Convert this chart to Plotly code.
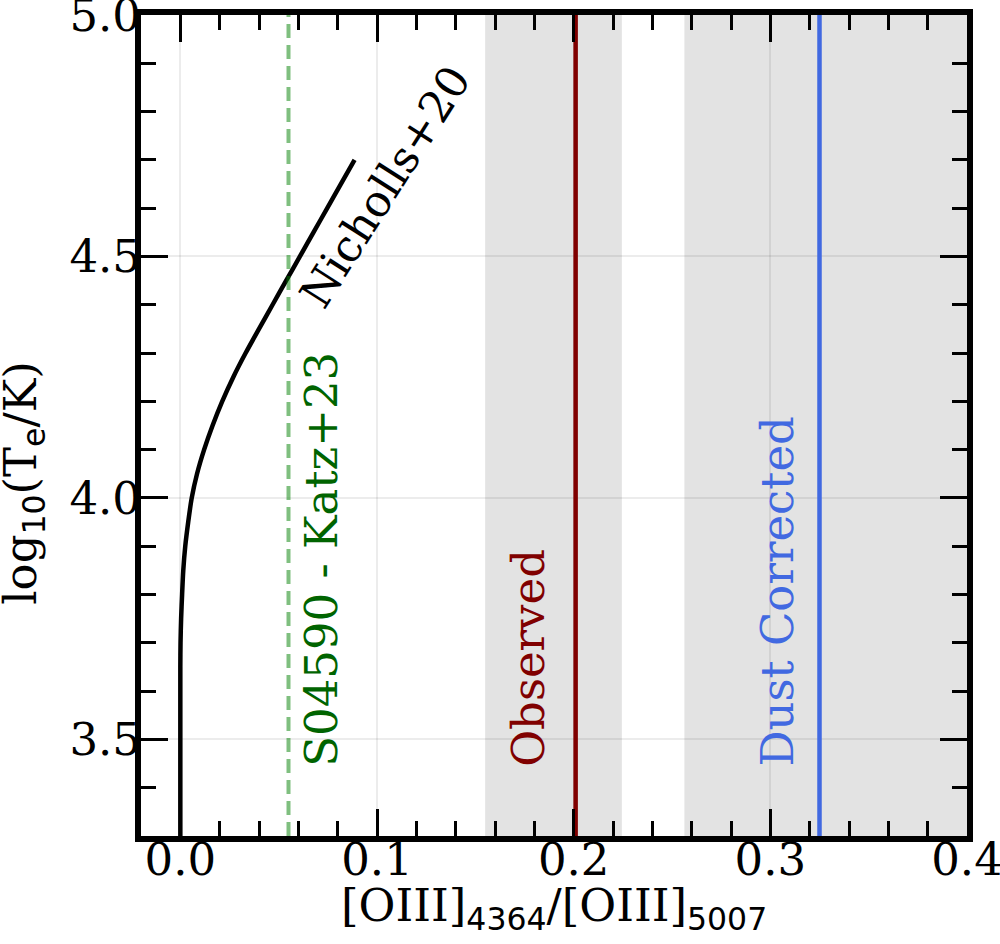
import plotly.graph_objects as go

# Nicholls+20 relation
nicholls_logT = [3.30, 3.60, 3.65, 3.70, 3.75, 3.80, 3.85, 3.90, 3.95, 4.00, 4.05, 4.10,
                 4.15, 4.20, 4.25, 4.30, 4.35, 4.40, 4.45, 4.50, 4.55, 4.60, 4.65, 4.70]
nicholls_ratio = [0.0, 0.0, 0.0, 0.0001, 0.0004, 0.0009, 0.0015, 0.0025, 0.0040, 0.0058,
                  0.0085, 0.0121, 0.0164, 0.0213, 0.0269, 0.0332, 0.0400, 0.0469, 0.0538,
                  0.0608, 0.0677, 0.0747, 0.0816, 0.0886]

katz_ratio = 0.055
observed_ratio = 0.201
observed_band = [0.155, 0.2245]
dust_ratio = 0.325
dust_band = [0.2563, 0.45]

x_range = [-0.02, 0.4]
y_range = [3.3, 5.0]
x_ticks = [0.0, 0.1, 0.2, 0.3, 0.4]
y_ticks = [3.5, 4.0, 4.5, 5.0]

SERIF = "DejaVu Serif"
SANS = "DejaVu Sans"
FS = 45

fig = go.Figure()

for band in (observed_band, dust_band):
    fig.add_shape(type="rect", xref="x", yref="y", x0=band[0], x1=band[1],
                  y0=y_range[0], y1=y_range[1], fillcolor="#e3e3e3",
                  line=dict(width=0), layer="below")

fig.add_trace(go.Scatter(x=nicholls_ratio, y=nicholls_logT, mode="lines",
                         line=dict(color="black", width=4.5, shape="spline", smoothing=0.8),
                         showlegend=False, hoverinfo="skip"))
fig.add_trace(go.Scatter(x=[katz_ratio, katz_ratio], y=y_range, mode="lines",
                         line=dict(color="rgba(0,128,0,0.5)", width=4, dash="14px,7px"),
                         showlegend=False, hoverinfo="skip"))
fig.add_trace(go.Scatter(x=[observed_ratio, observed_ratio], y=y_range, mode="lines",
                         line=dict(color="#800000", width=4.5),
                         showlegend=False, hoverinfo="skip"))
fig.add_trace(go.Scatter(x=[dust_ratio, dust_ratio], y=y_range, mode="lines",
                         line=dict(color="#4169E1", width=4.5),
                         showlegend=False, hoverinfo="skip"))

def vtext(x, text, color):
    fig.add_annotation(x=x, y=3.44, xref="x", yref="y", text=text, showarrow=False,
                       textangle=-90, xanchor="center", yanchor="bottom",
                       font=dict(family=SERIF, size=FS, color=color))

vtext(0.072, "S04590 - Katz+23", "#006400")
vtext(0.177, "Observed", "#800000")
vtext(0.3035, "Dust Corrected", "#4169E1")

fig.add_annotation(x=0.104, y=4.645, xref="x", yref="y", text="Nicholls+20",
                   showarrow=False, textangle=-57.5, xanchor="center", yanchor="middle",
                   font=dict(family=SERIF, size=44, color="black"))

sub = lambda s: f"<sub><span style='font-family:{SANS}'>{s}</span></sub>"
fig.add_annotation(x=0.5, y=-0.088, xref="paper", yref="paper",
                   text=f"[OIII]{sub('4364')}/[OIII]{sub('5007')}", showarrow=False,
                   xanchor="center", yanchor="middle",
                   font=dict(family=SERIF, size=FS, color="black"))
fig.add_annotation(x=-0.143, y=0.43, xref="paper", yref="paper",
                   text=f"log{sub('10')}(T{sub('e')}/K)", showarrow=False, textangle=-90,
                   xanchor="center", yanchor="middle",
                   font=dict(family=SERIF, size=FS, color="black"))

axis_common = dict(showline=True, linecolor="black", linewidth=6, mirror="allticks",
                   ticks="inside", ticklen=27, tickwidth=3, tickcolor="black",
                   showgrid=True, gridcolor="rgba(0,0,0,0.075)", gridwidth=2,
                   zeroline=False, automargin=False, ticklabeloverflow="allow",
                   tickfont=dict(family=SERIF, size=FS, color="black"))

fig.update_xaxes(range=x_range, tickvals=x_ticks, ticktext=[f"{v:.1f}" for v in x_ticks],
                 ticklabelstandoff=-21,
                 minor=dict(dtick=0.02, ticks="inside", ticklen=15, tickwidth=3,
                            tickcolor="black", showgrid=False),
                 **axis_common)
fig.update_yaxes(range=y_range, tickvals=y_ticks, ticktext=[f"{v:.1f}" for v in y_ticks],
                 ticklabelstandoff=-15,
                 minor=dict(dtick=0.1, ticks="inside", ticklen=15, tickwidth=3,
                            tickcolor="black", showgrid=False),
                 **axis_common)

fig.update_layout(width=1000, height=944, margin=dict(l=141, r=33, t=15, b=108),
                  plot_bgcolor="white", paper_bgcolor="white")

# remove the page's default body margin so the figure fills the window exactly
fig.write_html("out.html", config={"displayModeBar": False},
               post_script="document.body.style.margin='0px';document.body.style.overflow='hidden';")
